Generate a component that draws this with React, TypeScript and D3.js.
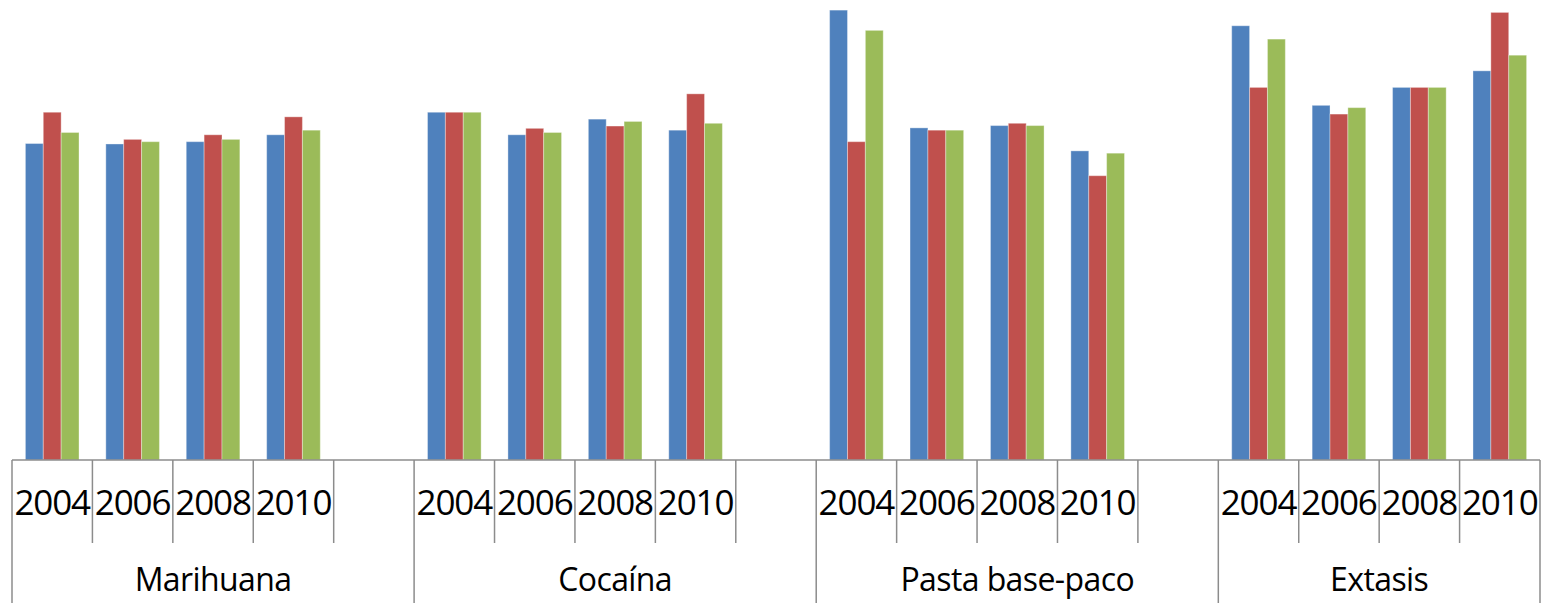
import * as d3 from "d3";
import { useEffect, useRef } from "react";

// drug groups and survey years
const groups = ["Marihuana", "Cocaína", "Pasta base-paco", "Extasis"];
const years = ["2004", "2006", "2008", "2010"];

// one value per group/year, in group order
const blueValues = [
  68.8, 68.7, 69.2, 70.7,
  75.6, 70.7, 74.1, 71.7,
  97.8, 72.2, 72.7, 67.2,
  94.4, 77.1, 81.0, 84.6,
];
const redValues = [
  75.6, 69.7, 70.7, 74.6,
  75.6, 72.1, 72.6, 79.6,
  69.2, 71.7, 73.2, 61.8,
  81.0, 75.2, 81.0, 97.3,
];
const greenValues = [
  71.2, 69.2, 69.7, 71.7,
  75.6, 71.2, 73.6, 73.2,
  93.4, 71.7, 72.7, 66.7,
  91.5, 76.6, 81.0, 88.0,
];

const seriesKeys = ["blue", "red", "green"];
const colors = ["#4F81BD", "#C0504D", "#9BBB59"];

const width = 1552;
const height = 603;
const left = 12;
const right = 1540;
const baseY = 460;
const tickBottom = 543;
const font = "'Open Sans', 'Noto Sans', sans-serif";

export default function App() {
  const ref = useRef<SVGSVGElement>(null);

  useEffect(() => {
    if (!ref.current) return;
    const svg = d3.select(ref.current);
    svg.selectAll("*").remove();

    // slots: every year of every group, plus an empty slot between groups
    const slots: { id: string; group: number; year: string; idx: number }[] = [];
    groups.forEach((g, gi) => {
      years.forEach((y, yi) => {
        slots.push({ id: `${gi}-${y}`, group: gi, year: y, idx: gi * years.length + yi });
      });
      if (gi < groups.length - 1) slots.push({ id: `${gi}-blank`, group: gi, year: "", idx: -1 });
    });

    const x = d3
      .scaleBand()
      .domain(slots.map((s) => s.id))
      .range([left, right])
      .padding(0);

    const xs = d3
      .scaleBand()
      .domain(seriesKeys)
      .range([0, x.bandwidth()])
      .paddingInner(0)
      .paddingOuter(0.75);

    const y = d3.scaleLinear().domain([0, 100]).range([baseY, 0]);

    const values = [blueValues, redValues, greenValues];

    const bars = slots
      .filter((s) => s.idx >= 0)
      .flatMap((s) =>
        seriesKeys.map((k, ki) => ({ slot: s.id, key: k, color: colors[ki], v: values[ki][s.idx] }))
      );

    svg
      .append("g")
      .selectAll("rect")
      .data(bars)
      .join("rect")
      .attr("x", (d) => x(d.slot)! + xs(d.key)!)
      .attr("y", (d) => y(d.v))
      .attr("width", xs.bandwidth())
      .attr("height", (d) => y(0) - y(d.v))
      .attr("fill", (d) => d.color)
      .attr("stroke", "#ffffff")
      .attr("stroke-opacity", 0.35)
      .attr("stroke-width", 1);

    const axis = svg.append("g").attr("stroke", "#8c8c8c").attr("stroke-width", 1.5);

    axis
      .append("line")
      .attr("x1", left)
      .attr("x2", right)
      .attr("y1", baseY)
      .attr("y2", baseY);

    // short ticks between slots, long ones at group edges
    slots.forEach((s, i) => {
      const xv = x(s.id)!;
      const groupStart = i === 0 || slots[i - 1].group !== s.group;
      axis
        .append("line")
        .attr("x1", xv)
        .attr("x2", xv)
        .attr("y1", baseY)
        .attr("y2", groupStart ? height : tickBottom);
    });
    axis
      .append("line")
      .attr("x1", right)
      .attr("x2", right)
      .attr("y1", baseY)
      .attr("y2", height);

    // year labels
    svg
      .append("g")
      .selectAll("text")
      .data(slots.filter((s) => s.year))
      .join("text")
      .attr("x", (d) => x(d.id)! + x.bandwidth() / 2)
      .attr("y", 515)
      .attr("text-anchor", "middle")
      .attr("font-family", font)
      .attr("font-size", 35)
      .attr("letter-spacing", -1.1)
      .attr("fill", "#000")
      .text((d) => d.year);

    // group labels, centred under each group span
    svg
      .append("g")
      .selectAll("text")
      .data(groups)
      .join("text")
      .attr("x", (_, gi) => {
        const gs = slots.filter((s) => s.group === gi);
        const x0 = x(gs[0].id)!;
        const x1 = x(gs[gs.length - 1].id)! + x.bandwidth();
        return (x0 + x1) / 2;
      })
      .attr("y", 591)
      .attr("text-anchor", "middle")
      .attr("font-family", font)
      .attr("font-size", 32)
      .attr("letter-spacing", -0.6)
      .attr("fill", "#000")
      .text((d) => d);

    return () => {
      svg.selectAll("*").remove();
    };
  }, []);

  return (
    <svg
      ref={ref}
      width={width}
      height={height}
      style={{ position: "absolute", left: 0, top: 0, background: "#fff" }}
    />
  );
}
